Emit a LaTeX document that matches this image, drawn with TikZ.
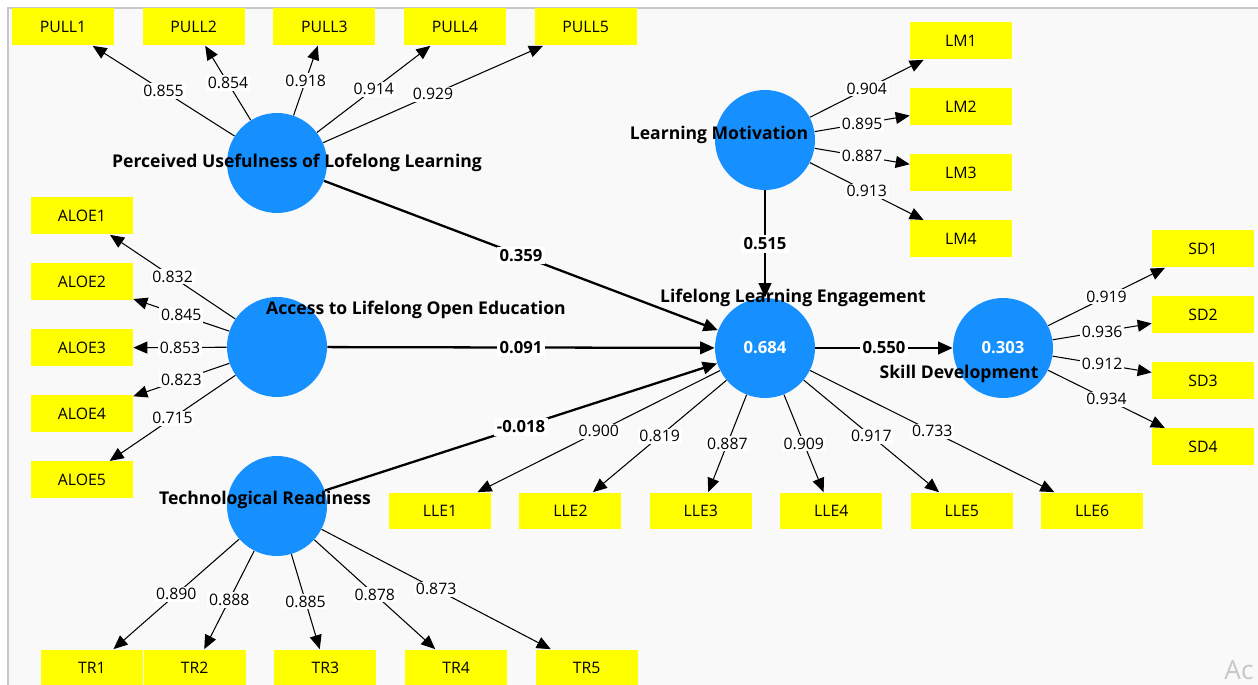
\documentclass[tikz,border=0pt]{standalone}
\usepackage{fontspec}
\setmainfont{Open Sans}
\usepackage{xcolor}
\usepackage{tikz}
\usetikzlibrary{arrows.meta,positioning}

\definecolor{lvblue}{RGB}{22,144,255}
\definecolor{mvyellow}{RGB}{255,255,0}
\definecolor{canvas}{RGB}{249,249,249}
\definecolor{frameline}{RGB}{200,200,200}

\begin{document}
\begin{tikzpicture}[x=0.02cm, y=-0.02cm,
    latent/.style={circle, fill=lvblue, minimum size=2cm, inner sep=0pt, text=white, font=\bfseries\fontsize{9.5}{11}\selectfont},
    item/.style={rectangle, fill=mvyellow, minimum width=2.04cm, minimum height=0.74cm, inner sep=0pt, font=\fontsize{9}{11}\selectfont},
    lvname/.style={inner sep=1pt, font=\bfseries\fontsize{10}{12}\selectfont},
    load/.style={draw, -{Triangle[length=2.8mm, width=2.4mm]}, line width=0.6pt},
    inner/.style={draw, -{Triangle[length=2.9mm, width=2.5mm]}, line width=1.3pt},
    weight/.style={fill=white, inner sep=1pt, font=\fontsize{9}{11}\selectfont},
    coef/.style={fill=white, inner sep=1.5pt, font=\bfseries\fontsize{9.5}{11}\selectfont}]

    \useasboundingbox (0,0) rectangle (1258,685);
    \fill [white] (0,0) rectangle (1258,685);
    \fill [canvas] (8,8) rectangle (1258,685);
    \draw [frameline, line width=1.2pt] (8,685) -- (8,8) -- (1258,8);

    % constructs
    \node [latent] (pul) at (277,163) {};
    \node [latent] (lm) at (765,140) {};
    \node [latent] (aloe) at (277,347) {};
    \node [latent] (lle) at (765,348) {0.684};
    \node [latent] (sd) at (1003,348) {0.303};
    \node [latent] (tr) at (277,506) {};

    % indicators
    \node [item] (pull1) at (63,27) {PULL1};
    \node [item, right=0.56cm of pull1] (pull2) {PULL2};
    \node [item, right=0.56cm of pull2] (pull3) {PULL3};
    \node [item, right=0.56cm of pull3] (pull4) {PULL4};
    \node [item, right=0.56cm of pull4] (pull5) {PULL5};

    \node [item] (lm1) at (961,41) {LM1};
    \node [item, below=0.565cm of lm1] (lm2) {LM2};
    \node [item, below=0.565cm of lm2] (lm3) {LM3};
    \node [item, below=0.565cm of lm3] (lm4) {LM4};

    \node [item] (aloe1) at (82,216) {ALOE1};
    \node [item, below=0.565cm of aloe1] (aloe2) {ALOE2};
    \node [item, below=0.565cm of aloe2] (aloe3) {ALOE3};
    \node [item, below=0.565cm of aloe3] (aloe4) {ALOE4};
    \node [item, below=0.565cm of aloe4] (aloe5) {ALOE5};

    \node [item] (sd1) at (1203,249) {SD1};
    \node [item, below=0.565cm of sd1] (sd2) {SD2};
    \node [item, below=0.565cm of sd2] (sd3) {SD3};
    \node [item, below=0.565cm of sd3] (sd4) {SD4};

    \node [item] (lle1) at (440,511) {LLE1};
    \node [item, right=0.555cm of lle1] (lle2) {LLE2};
    \node [item, right=0.555cm of lle2] (lle3) {LLE3};
    \node [item, right=0.555cm of lle3] (lle4) {LLE4};
    \node [item, right=0.555cm of lle4] (lle5) {LLE5};
    \node [item, right=0.555cm of lle5] (lle6) {LLE6};

    \node [item] (tr1) at (92,668) {TR1};
    \node [item, right=0pt of tr1] (tr2) {TR2};
    \node [item, right=0.56cm of tr2] (tr3) {TR3};
    \node [item, right=0.56cm of tr3] (tr4) {TR4};
    \node [item, right=0.56cm of tr4] (tr5) {TR5};

    % outer loadings
    \draw [load] (pul) -- (pull1) node[weight, midway] {0.855};
    \draw [load] (pul) -- (pull2) node[weight, midway] {0.854};
    \draw [load] (pul) -- (pull3) node[weight, midway] {0.918};
    \draw [load] (pul) -- (pull4) node[weight, midway] {0.914};
    \draw [load] (pul) -- (pull5) node[weight, midway] {0.929};

    \draw [load] (lm) -- (lm1) node[weight, midway] {0.904};
    \draw [load] (lm) -- (lm2) node[weight, midway] {0.895};
    \draw [load] (lm) -- (lm3) node[weight, midway] {0.887};
    \draw [load] (lm) -- (lm4) node[weight, midway] {0.913};

    \draw [load] (aloe) -- (aloe1) node[weight, midway] {0.832};
    \draw [load] (aloe) -- (aloe2) node[weight, midway] {0.845};
    \draw [load] (aloe) -- (aloe3) node[weight, midway] {0.853};
    \draw [load] (aloe) -- (aloe4) node[weight, midway] {0.823};
    \draw [load] (aloe) -- (aloe5) node[weight, midway] {0.715};

    \draw [load] (sd) -- (sd1) node[weight, midway] {0.919};
    \draw [load] (sd) -- (sd2) node[weight, midway] {0.936};
    \draw [load] (sd) -- (sd3) node[weight, midway] {0.912};
    \draw [load] (sd) -- (sd4) node[weight, midway] {0.934};

    \draw [load] (lle) -- (lle1) node[weight, midway] {0.900};
    \draw [load] (lle) -- (lle2) node[weight, midway] {0.819};
    \draw [load] (lle) -- (lle3) node[weight, midway] {0.887};
    \draw [load] (lle) -- (lle4) node[weight, midway] {0.909};
    \draw [load] (lle) -- (lle5) node[weight, midway] {0.917};
    \draw [load] (lle) -- (lle6) node[weight, midway] {0.733};

    \draw [load] (tr) -- (tr1) node[weight, midway] {0.890};
    \draw [load] (tr) -- (tr2) node[weight, midway] {0.888};
    \draw [load] (tr) -- (tr3) node[weight, midway] {0.885};
    \draw [load] (tr) -- (tr4) node[weight, midway] {0.878};
    \draw [load] (tr) -- (tr5) node[weight, midway] {0.873};

    % inner model
    \draw [inner] (pul) -- (lle) node[coef, midway] {0.359};
    \draw [inner] (aloe) -- (lle) node[coef, midway] {0.091};
    \draw [inner] (tr) -- (lle) node[coef, midway] {-0.018};
    \draw [inner] (lm) -- (lle) node[coef, midway] {0.515};
    \draw [inner] (lle) -- (sd) node[coef, midway] {0.550};

    % construct names
    \node [lvname] (pulname) at (297,163) {Perceived Usefulness of Lofelong Learning};
    \node [lvname] (lmname) at (719,135) {Learning Motivation};
    \node [lvname] (aloename) at (416,310) {Access to Lifelong Open Education};
    \node [lvname] (llename) at (793,298) {Lifelong Learning Engagement};
    \node [lvname] (sdname) at (959,374) {Skill Development};
    \node [lvname] (trname) at (265,500) {Technological Readiness};

    \node [anchor=base west, inner sep=0pt, text=black!22, font=\fontsize{15}{15}\selectfont] (wm) at (1224,680) {Ac};
\end{tikzpicture}
\end{document}
